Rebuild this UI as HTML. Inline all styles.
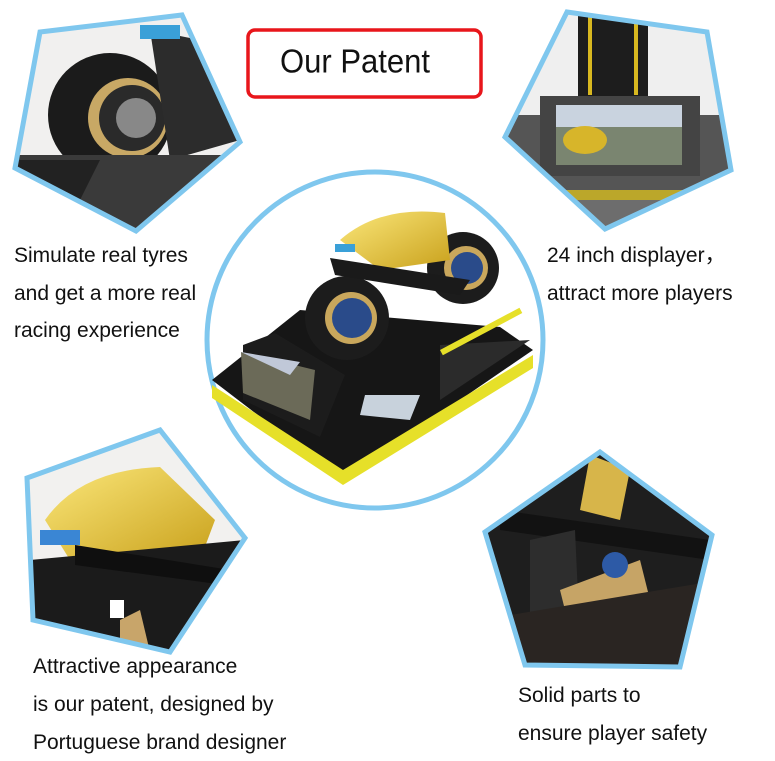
<!DOCTYPE html>
<html><head><meta charset="utf-8"><style>
html,body{margin:0;padding:0;background:#fff;}
svg{display:block;}
text{font-family:"Liberation Sans",Arial,sans-serif;fill:#111;}
</style></head><body>
<svg width="775" height="761" viewBox="0 0 775 761" xmlns="http://www.w3.org/2000/svg">
<defs>
<linearGradient id="yl" x1="0" y1="0" x2="1" y2="1"><stop offset="0" stop-color="#fbe77a"/><stop offset="1" stop-color="#c9a11c"/></linearGradient>
<clipPath id="c1"><polygon points="40,32 182,15 240,142 136,231 15,168"/></clipPath>
<clipPath id="c2"><polygon points="567,12 707,32 731,170 605,229 505,137"/></clipPath>
<clipPath id="c3"><polygon points="27,478 160,430 245,538 170,652 33,620"/></clipPath>
<clipPath id="c4"><polygon points="600,452 712,535 680,667 525,665 485,532"/></clipPath>
</defs>

<rect x="248" y="30" width="233" height="67" rx="7" fill="#fff" stroke="#e8161b" stroke-width="3.5"/>
<text x="280" y="72" font-size="32" transform="translate(280 0) scale(0.97 1.05) translate(-280 -3)">Our Patent</text>

<g clip-path="url(#c1)">
<rect x="0" y="0" width="260" height="240" fill="#f1f0ef"/>
<circle cx="110" cy="115" r="62" fill="#1b1b1b"/>
<circle cx="128" cy="118" r="40" fill="#c8a865"/>
<circle cx="132" cy="118" r="33" fill="#2a2a2a"/>
<circle cx="136" cy="118" r="20" fill="#888"/>
<polygon points="150,30 200,40 240,140 170,160" fill="#2c2c2c"/>
<polygon points="0,155 240,155 240,240 0,240" fill="#3a3a3a"/>
<polygon points="0,160 100,160 60,240 0,240" fill="#222"/>
<rect x="140" y="25" width="40" height="14" fill="#3aa0d8"/>
</g>
<polygon points="40,32 182,15 240,142 136,231 15,168" fill="none" stroke="#7fc7ee" stroke-width="5"/>

<g clip-path="url(#c2)">
<rect x="500" y="0" width="240" height="240" fill="#efefef"/>
<rect x="578" y="10" width="70" height="90" fill="#1d1d1d"/>
<rect x="588" y="10" width="4" height="85" fill="#d8b820"/>
<rect x="634" y="10" width="4" height="85" fill="#d8b820"/>
<polygon points="505,115 740,115 740,190 505,190" fill="#555"/>
<rect x="540" y="96" width="160" height="80" fill="#444"/>
<rect x="556" y="105" width="126" height="60" fill="#7a8570"/>
<rect x="556" y="105" width="126" height="22" fill="#c9d3df"/>
<ellipse cx="585" cy="140" rx="22" ry="14" fill="#d7b52a"/>
<rect x="505" y="190" width="240" height="10" fill="#bba72a"/>
<rect x="505" y="200" width="240" height="40" fill="#6d6d6d"/>
</g>
<polygon points="567,12 707,32 731,170 605,229 505,137" fill="none" stroke="#7fc7ee" stroke-width="5"/>

<circle cx="375" cy="340" r="168" fill="#fff" stroke="#7fc7ee" stroke-width="5"/>
<polygon points="212,380 300,310 500,327 533,350 343,480" fill="#161616"/>
<polygon points="212,385 343,470 533,355 533,368 343,485 212,398" fill="#e6e029"/>
<polygon points="440,345 530,340 440,400" fill="#2b2b2b"/>
<rect x="440" y="350" width="90" height="6" fill="#e6e029" transform="rotate(-28 440 350)"/>
<polygon points="365,395 420,395 410,420 360,415" fill="#c8d2dc"/>
<circle cx="347" cy="318" r="42" fill="#1c1c1c"/>
<circle cx="351" cy="318" r="26" fill="#c9a75c"/>
<circle cx="352" cy="318" r="20" fill="#2a4b8a"/>
<circle cx="463" cy="268" r="36" fill="#1c1c1c"/>
<circle cx="466" cy="268" r="22" fill="#c9a75c"/>
<circle cx="467" cy="268" r="16" fill="#2a4b8a"/>
<path d="M340,240 Q380,205 445,213 L450,260 L380,270 Z" fill="url(#yl)"/>
<polygon points="330,258 470,280 460,295 335,275" fill="#1a1a1a"/>
<rect x="335" y="244" width="20" height="8" fill="#3aa0d8"/>
<polygon points="243,345 275,333 345,375 320,437 243,400" fill="#1c1c1c"/>
<polygon points="241,352 315,370 310,420 243,393" fill="#6b6a58"/>
<polygon points="241,352 300,362 290,375" fill="#c0c8d8"/>

<g clip-path="url(#c3)">
<rect x="20" y="425" width="230" height="230" fill="#f2f1ef"/>
<path d="M45,520 Q80,470 160,467 L215,520 L200,560 L70,560 Z" fill="url(#yl)"/>
<polygon points="30,560 245,540 245,660 30,660" fill="#1b1b1b"/>
<polygon points="75,545 230,570 225,585 75,565" fill="#0f0f0f"/>
<rect x="40" y="530" width="40" height="15" fill="#3a86d4"/>
<rect x="110" y="600" width="14" height="18" fill="#fff"/>
<polygon points="120,620 140,610 150,652 120,652" fill="#c8a56a"/>
</g>
<polygon points="27,478 160,430 245,538 170,652 33,620" fill="none" stroke="#7fc7ee" stroke-width="5"/>

<g clip-path="url(#c4)">
<rect x="480" y="445" width="240" height="230" fill="#1e1e1e"/>
<polygon points="590,455 630,470 620,520 580,510" fill="#d7b54a"/>
<polygon points="500,510 710,540 710,560 500,530" fill="#121212"/>
<polygon points="530,540 575,530 580,640 530,650" fill="#2d2d2d"/>
<polygon points="560,590 640,560 650,600 570,630" fill="#c6a466"/>
<circle cx="615" cy="565" r="13" fill="#2d5aa6"/>
<polygon points="480,620 720,580 720,675 480,675" fill="#2a2522"/>
</g>
<polygon points="600,452 712,535 680,667 525,665 485,532" fill="none" stroke="#7fc7ee" stroke-width="5"/>

<g font-size="21">
<text x="14" y="262">Simulate real tyres</text>
<text x="14" y="300">and get a more real</text>
<text x="14" y="337">racing experience</text>
<text x="547" y="262">24 inch displayer，</text>
<text x="547" y="300">attract more players</text>
<text x="33" y="673">Attractive appearance</text>
<text x="33" y="711">is our patent, designed by</text>
<text x="33" y="749">Portuguese brand designer</text>
<text x="518" y="702">Solid parts to</text>
<text x="518" y="740">ensure player safety</text>
</g>
</svg>
</body></html>
